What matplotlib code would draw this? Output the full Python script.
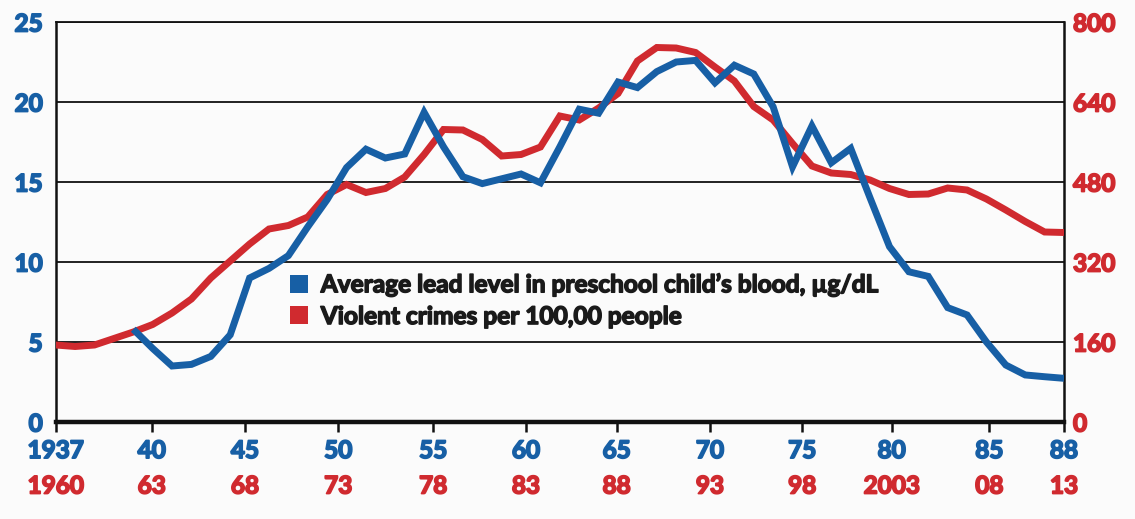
import matplotlib
matplotlib.use("Agg")
import matplotlib.pyplot as plt
import matplotlib.patheffects as pe
import numpy as np
from matplotlib.lines import Line2D
from matplotlib import transforms

plt.rcParams['font.family'] = ['Lato', 'DejaVu Sans']

# ---------------- data ----------------
crime_years = np.arange(1960, 2013)
violent_crime = [154, 151, 154, 167, 180, 195, 218, 246, 288, 322,
                 356, 386, 393, 410, 455, 475, 459, 467, 490, 535,
                 585, 584, 565, 532, 535, 550, 612, 604, 628, 657,
                 722, 749, 748, 739, 710, 682, 631, 604, 557, 512,
                 498, 495, 484, 467, 455, 456, 468, 464, 446, 424,
                 401, 380, 379]

lead_years = np.arange(1941, 1990)
lead_level = [5.8, 4.6, 3.5, 3.6, 4.1, 5.45, 9.0, 9.6, 10.4, 12.2,
              13.9, 15.9, 17.05, 16.5, 16.75, 19.35, 17.2, 15.33, 14.9, 15.2,
              15.5, 14.95, 17.2, 19.55, 19.3, 21.25, 20.9, 21.9, 22.5, 22.6,
              21.2, 22.3, 21.75, 19.7, 15.95, 18.5, 16.2, 17.1, 14.0, 10.96,
              9.39, 9.1, 7.15, 6.69, 5.0, 3.56, 2.94, 2.83, 2.73]
LAG = 23  # years between lead exposure and crime

tick_pos = [1960, 1964.95, 1969.76, 1974.57, 1979.47, 1984.25, 1988.93,
            1993.74, 1998.5, 2003.11, 2008.15, 2012]
lead_tick_labels = ['1937', '40', '45', '50', '55', '60', '65', '70', '75', '80', '85', '88']
crime_tick_labels = ['1960', '63', '68', '73', '78', '83', '88', '93', '98', '2003', '08', '13']

lead_yticks = [0, 5, 10, 15, 20, 25]
crime_yticks = [0, 160, 320, 480, 640, 800]

legend_labels = ['Average lead level in preschool child\u2019s blood, \u00b5g/dL',
                 'Violent crimes per 100,00 people']

# ---------------- style ----------------
BLUE = '#175fa5'
RED = '#d02a2f'
BG = '#fbfbfb'
INK = '#111111'
TXT = '#1a1a1a'
W, H = 1135, 519
FS = 17.5
WEIGHT = 'bold'


def heavy(t, color, lw=1.3):
    t.set_path_effects([pe.withStroke(linewidth=lw, foreground=color)])


fig = plt.figure(figsize=(W / 100, H / 100), dpi=100, facecolor=BG)
ax = fig.add_axes([55.7 / W, 1 - 422 / H, (1064 - 55.7) / W, (422 - 22) / H])
ax.set_facecolor(BG)

# crime (right axis scale)
ax.plot(crime_years, violent_crime, color=RED, lw=5, solid_joinstyle='miter',
        solid_capstyle='butt', zorder=3)
ax.set_xlim(crime_years[0], crime_years[-1])
ax.set_ylim(0, 800)
ax.set_yticks(crime_yticks)
ax.grid(axis='y', color=INK, lw=1.3, zorder=1)
ax.grid(axis='x', visible=False)

# lead (left axis scale)
ax2 = ax.twinx()
ax2.plot(lead_years + LAG, lead_level, color=BLUE, lw=5, solid_joinstyle='miter',
         solid_capstyle='butt', zorder=4)
ax2.set_ylim(0, 25)
ax2.set_yticks(lead_yticks)
ax2.yaxis.tick_left()
ax.yaxis.tick_right()
for s in ax2.spines.values():
    s.set_visible(False)

ax.tick_params(axis='y', length=0, pad=6.5, labelcolor=RED, labelsize=FS)
ax2.tick_params(axis='y', length=0, pad=9.4, labelcolor=BLUE, labelsize=FS)
for lbl in ax.get_yticklabels():
    lbl.set_fontweight(WEIGHT)
    heavy(lbl, RED)
for lbl in ax2.get_yticklabels():
    lbl.set_fontweight(WEIGHT)
    heavy(lbl, BLUE)

# spines
ax.spines['top'].set_linewidth(1.3)
ax.spines['left'].set_linewidth(1.8)
ax.spines['right'].set_linewidth(1.8)
ax.spines['bottom'].set_linewidth(3.2)
for s in ax.spines.values():
    s.set_color(INK)

# x ticks: lead years row (blue) + crime years row (red)
ax.set_xticks(tick_pos)
ax.set_xticklabels(lead_tick_labels)
ax.tick_params(axis='x', direction='out', length=7.5, width=1.8, color=INK,
               pad=4.8, labelcolor=BLUE, labelsize=FS)
for lbl in ax.get_xticklabels():
    lbl.set_fontweight(WEIGHT)
    heavy(lbl, BLUE)

trans = transforms.blended_transform_factory(ax.transData, fig.transFigure)
for pos, lab in zip(tick_pos, crime_tick_labels):
    t = ax.text(pos, 1 - 486 / H, lab, transform=trans, ha='center', va='center',
                color=RED, fontsize=FS, fontweight=WEIGHT, clip_on=False)
    heavy(t, RED)

# legend
handles = [Line2D([], [], marker='s', ls='none', markersize=13, color=c,
                  markeredgewidth=0) for c in (BLUE, RED)]
leg = ax2.legend(handles, legend_labels, loc='upper left',
                 bbox_to_anchor=(288 / W, 1 - 273 / H), bbox_transform=fig.transFigure,
                 frameon=False, prop={'weight': WEIGHT, 'size': 17.6},
                 handlelength=0.92, handletextpad=0.42, labelspacing=0.36,
                 borderpad=0, borderaxespad=0, labelcolor=TXT)
for t in leg.get_texts():
    heavy(t, TXT, lw=1.1)

fig.savefig('out.png', dpi=100, facecolor=BG)
